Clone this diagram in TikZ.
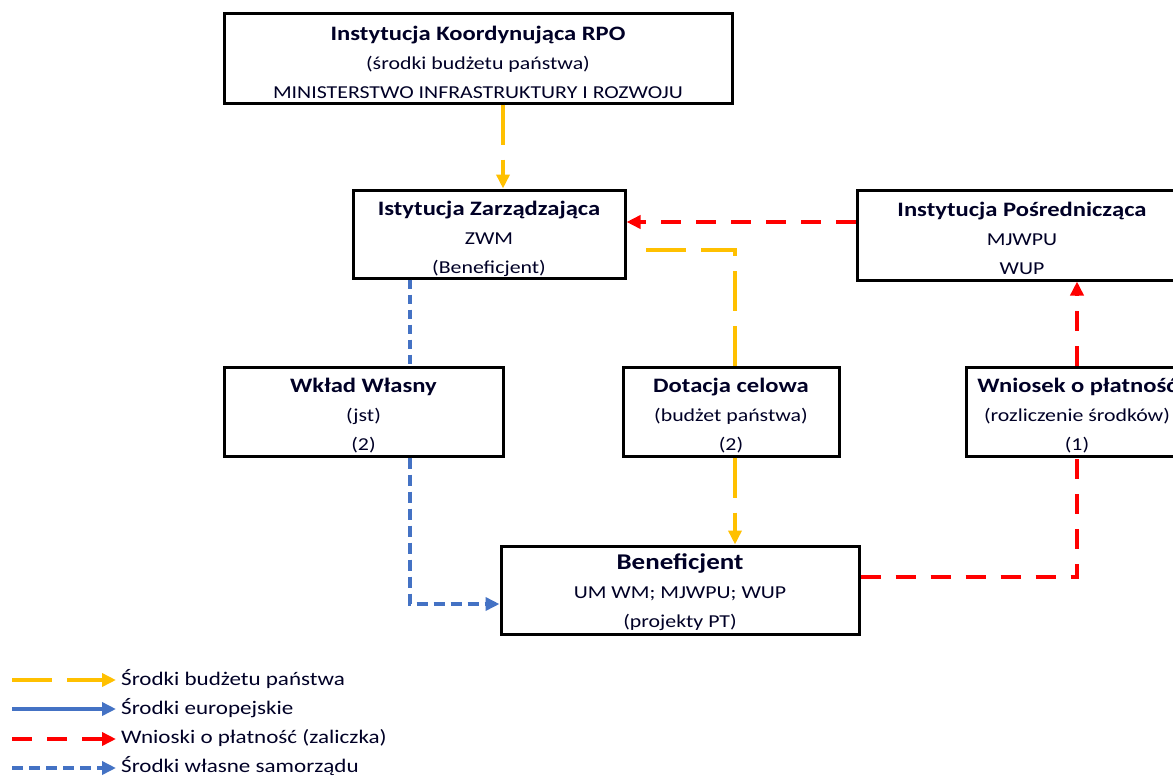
\documentclass[tikz,border=0pt]{standalone}
\usepackage{fontspec}
\setmainfont{Carlito}[FakeStretch=1.2]
\usetikzlibrary{arrows.meta}
\definecolor{cyel}{HTML}{FFC000}
\definecolor{cblue}{HTML}{4472C4}
\definecolor{cred}{HTML}{FF0000}
\newcommand{\ttlfont}{\fontsize{20.5}{29}\selectfont\bfseries\rule{0pt}{22pt}}
\newcommand{\benfont}{\fontsize{22.5}{29}\selectfont\bfseries\rule{0pt}{21pt}}
\tikzset{
  box/.style={draw=black, line width=3pt, rectangle, inner sep=0pt, align=center,
    text=black!85!blue, font=\fontsize{18.2}{29}\selectfont},
  conn/.style={line width=3.6pt},
  tip/.style={-{Triangle[length=14pt,width=13pt]}},
  ylong/.style={conn, draw=cyel, dash pattern=on 40pt off 15pt},
  rdash/.style={conn, draw=cred, dash pattern=on 20pt off 15pt},
  bdot/.style={conn, draw=cblue, dash pattern=on 9pt off 6pt},
  bdash/.style={conn, draw=cblue, dash pattern=on 11pt off 6pt},
  bsolid/.style={conn, draw=cblue},
  legtext/.style={anchor=west, inner sep=0pt, text=black!85!blue, font=\fontsize{19.2}{22}\selectfont},
}
\begin{document}
\begin{tikzpicture}[x=1pt,y=-1pt]
\useasboundingbox (0,0) rectangle (1173,776);
\clip (0,0) rectangle (1173,776);
\fill[white] (0,0) rectangle (1173,776);

% boxes
\node[box, minimum width=508pt, minimum height=89pt] (ik) at (478,58.5)
  {{\ttlfont Instytucja Koordynująca RPO}\\(środki budżetu państwa)\\MINISTERSTWO INFRASTRUKTURY I ROZWOJU};
\node[box, minimum width=272pt, minimum height=88pt] (iz) at (489,234)
  {{\ttlfont\rule{0pt}{25pt}Istytucja Zarządzająca}\\ZWM\\(Beneficjent)};
\node[box, minimum width=330pt, minimum height=90pt] (ip) at (1022,235)
  {{\ttlfont Instytucja Pośrednicząca}\\MJWPU\\WUP};
\node[box, minimum width=279pt, minimum height=89pt] (ww) at (363.5,411.5)
  {{\ttlfont Wkład Własny}\\(jst)\\(2)};
\node[box, minimum width=216pt, minimum height=89pt] (dc) at (731,411.5)
  {{\ttlfont Dotacja celowa}\\(budżet państwa)\\(2)};
\node[box, minimum width=222pt, minimum height=89pt] (wp) at (1077,411.5)
  {{\ttlfont Wniosek o płatność}\\(rozliczenie środków)\\(1)};
\node[box, minimum width=358pt, minimum height=88pt] (ben) at (680,590)
  {{\benfont Beneficjent}\\UM WM; MJWPU; WUP\\(projekty PT)};

% reference coordinates
\coordinate (xa) at (503,0);
\coordinate (xd) at (735,0);
\coordinate (xw) at (410,0);
\coordinate (yr) at (0,222);
\coordinate (yb) at (0,604);
\coordinate (yben) at (0,577);
\coordinate (yend) at (640,250);

% connectors
\draw[ylong, tip] (xa |- ik.south) -- (xa |- iz.north);
\draw[rdash, tip] (ip.west |- yr) -- (iz.east |- yr);
\draw[ylong] (xd |- dc.north) |- (yend);
\draw[bdot] (xw |- iz.south) -- (xw |- ww.north);
\draw[bdash, tip] (xw |- ww.south) |- (ben.west |- yb);
\draw[ylong, tip] (xd |- dc.south) -- (xd |- ben.north);
\draw[rdash] (ben.east |- yben) -| (wp.south);
\draw[rdash, tip] (wp.north) -- (wp.north |- ip.south);

% legend
\coordinate (l1a) at (12,680); \coordinate (l1b) at (116,680);
\coordinate (l2a) at (12,709); \coordinate (l2b) at (116,709);
\coordinate (l3a) at (12,739); \coordinate (l3b) at (116,739);
\coordinate (l4a) at (12,768); \coordinate (l4b) at (116,768);
\draw[ylong, tip] (l1a) -- (l1b);
\draw[bsolid, tip] (l2a) -- (l2b);
\draw[rdash, tip] (l3a) -- (l3b);
\draw[bdash, tip] (l4a) -- (l4b);
\node[legtext] (t1) at (121,679) {Środki budżetu państwa};
\node[legtext] (t2) at (121,708) {Środki europejskie};
\node[legtext] (t3) at (121,738) {Wnioski o płatność (zaliczka)};
\node[legtext] (t4) at (121,766) {Środki własne samorządu};
\end{tikzpicture}
\end{document}
